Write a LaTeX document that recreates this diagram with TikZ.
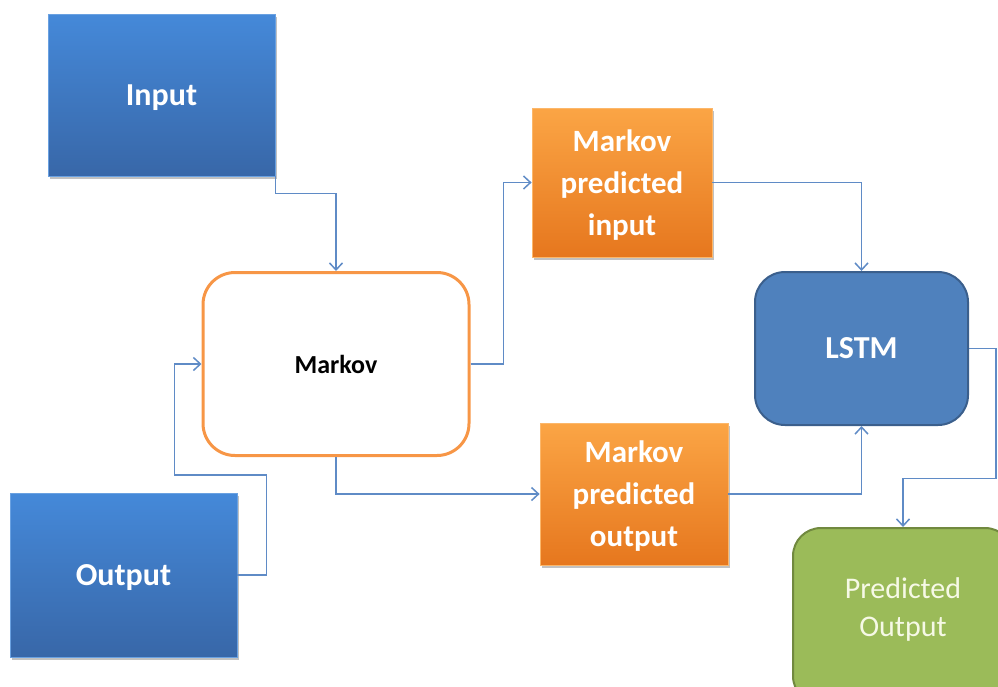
\documentclass[tikz,border=0pt]{standalone}
\usepackage{fontspec}
\setmainfont{Carlito}
\usetikzlibrary{arrows.meta,shadows}

\definecolor{linkblue}{HTML}{5F8BC6}
\definecolor{boxtop}{HTML}{4589D9}
\definecolor{boxbot}{HTML}{3867A8}
\definecolor{orgtop}{HTML}{FBA545}
\definecolor{orgbot}{HTML}{E6771E}
\definecolor{mkline}{HTML}{F79646}
\definecolor{lstmfill}{HTML}{4F81BD}
\definecolor{lstmline}{HTML}{3B5F8C}
\definecolor{grfill}{HTML}{9BBB59}
\definecolor{grline}{HTML}{71893F}
\definecolor{grtext}{HTML}{F6F9E6}

\tikzset{
  conn/.style={draw=linkblue, line width=1.5pt, -{Straight Barb[length=7pt,width=13pt,line width=1.5pt]}},
  blkshadow/.style={drop shadow={shadow xshift=2pt, shadow yshift=-3pt, opacity=0.35, fill=black!70}},
  bluebox/.style={rectangle, top color=boxtop, bottom color=boxbot, draw=boxtop!80!white, line width=0.8pt,
    blkshadow, text=white, font=\bfseries\fontsize{32}{38}\selectfont, align=center, inner sep=0pt, text depth=0pt},
  orangebox/.style={rectangle, top color=orgtop, bottom color=orgbot, draw=orgtop!80!white, line width=0.8pt,
    blkshadow, text=white, font=\bfseries\fontsize{31}{42}\selectfont, align=center, inner sep=0pt, text depth=0pt},
  markovbox/.style={rectangle, rounded corners=32pt, draw=mkline, line width=3pt, fill=white,
    font=\bfseries\fontsize{26}{30}\selectfont, inner sep=0pt},
  lstmbox/.style={rectangle, rounded corners=30pt, draw=lstmline, line width=2pt, fill=lstmfill,
    text=white, font=\bfseries\fontsize{32}{38}\selectfont, inner sep=0pt},
  resultbox/.style={rectangle, rounded corners=28pt, draw=grline, line width=2pt, fill=grfill,
    text=grtext, font=\fontsize{30}{38}\selectfont, align=center, inner sep=0pt},
}

\begin{document}
\begin{tikzpicture}[x=1pt, y=-1pt]
  \useasboundingbox (0,0) rectangle (998,686);
  \clip (0,0) rectangle (998,686);

  % source blocks
  \node[bluebox, minimum width=227pt, minimum height=162pt] (in) at (161.5,95) {Input};
  \node[bluebox, minimum width=227pt, minimum height=164pt] (out) at (123.5,575) {Output};

  % Markov model
  \node[markovbox, minimum width=266pt, minimum height=183pt] (mk) at (336,364) {Markov};

  % Markov predictions
  \node[orangebox, minimum width=180pt, minimum height=149pt] (mpi) at (622,182.5) {Markov\\predicted\\input};
  \node[orangebox, minimum width=188pt, minimum height=142pt] (mpo) at (634,494) {Markov\\predicted\\output};

  % LSTM stage
  \node[lstmbox, minimum width=213pt, minimum height=153pt] (lstm) at (861.5,348.5) {LSTM};

  % final prediction
  \node[resultbox, minimum width=220pt, minimum height=176pt] (po) at (903,616) {};
  \node[text=grtext, font=\fontsize{30}{38}\selectfont, align=center] (potext) at (903,609) {Predicted\\Output};

  % connectors
  \draw[conn] (in.south east) -- ++(0,17) -| (mk.north);
  \draw[conn] (out.east) -- ++(29,0) -- ++(0,-100) -- ++(-92,0) |- (mk.west);
  \draw[conn] (mk.east) -- ++(33,0) |- (mpi.west);
  \draw[conn] (mk.south) |- (mpo.west);
  \draw[conn] (mpi.east) -| (lstm.north);
  \draw[conn] (mpo.east) -| (lstm.south);
  \draw[conn] (lstm.east) -- ++(27,0) -- ++(0,130) -| (po.north);
\end{tikzpicture}
\end{document}
